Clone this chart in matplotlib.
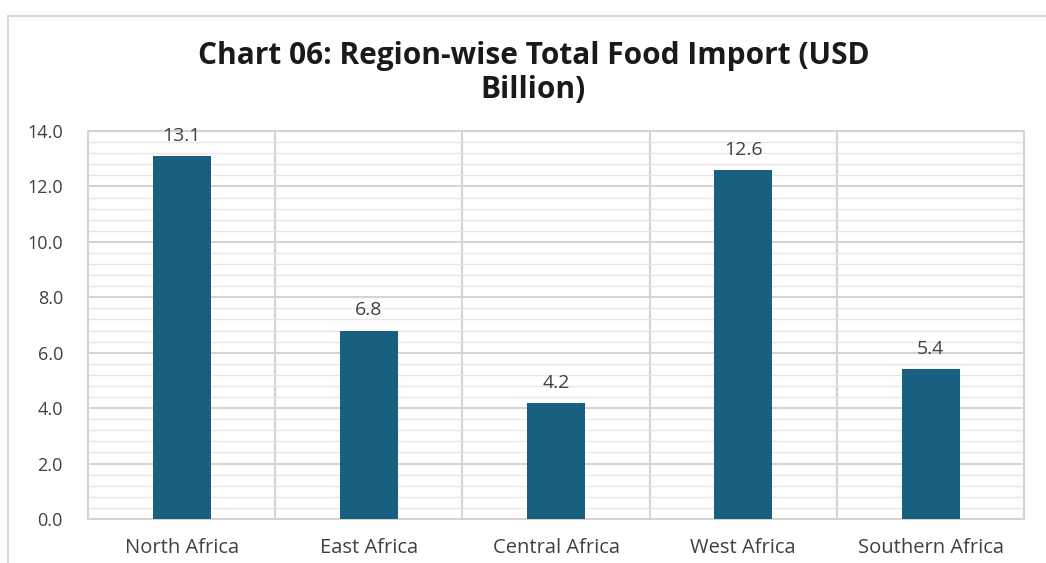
import matplotlib.pyplot as plt
from matplotlib.patches import Rectangle
from matplotlib.ticker import MultipleLocator

plt.rcParams['font.family'] = ['Open Sans', 'DejaVu Sans']

regions = ['North Africa', 'East Africa', 'Central Africa', 'West Africa', 'Southern Africa']
imports = [13.1, 6.8, 4.2, 12.6, 5.4]

fig = plt.figure(figsize=(10.46, 5.63), dpi=100)
ax = fig.add_axes([0.0841, 0.0782, 0.895, 0.689])

# outer frame of the chart
fig.patches.append(Rectangle((8 / 1046, -0.1), 1.2, 1 - 16 / 563 + 0.1,
                             transform=fig.transFigure, fill=False,
                             edgecolor='#d9d9d9', linewidth=1.5))

x = range(len(regions))
ax.bar(x, imports, width=0.31, color='#195f80', zorder=3)
for i, v in enumerate(imports):
    ax.text(i, v + 0.4, f'{v:.1f}', ha='center', va='bottom',
            fontsize=14, color='#404040')

ax.set_xlim(-0.5, len(regions) - 0.5)
ax.set_ylim(0, 14)
ax.yaxis.set_major_locator(MultipleLocator(2))
ax.yaxis.set_minor_locator(MultipleLocator(0.4))
ax.set_yticklabels([f'{t:.1f}' for t in ax.get_yticks()])
ax.set_xticks(list(x))
ax.set_xticklabels(regions)
ax.set_xticks([i - 0.5 for i in range(len(regions) + 1)], minor=True)

ax.grid(which='major', axis='y', color='#d4d4d4', linewidth=1.5, zorder=0)
ax.grid(which='minor', axis='y', color='#e6e6e6', linewidth=1.0, zorder=0)
ax.grid(which='minor', axis='x', color='#d4d4d4', linewidth=1.5, zorder=0)
ax.tick_params(which='both', length=0)
ax.tick_params(axis='x', labelsize=14.5, labelcolor='#404040', pad=14)
ax.tick_params(axis='y', labelsize=13, labelcolor='#404040', pad=18)
for s in ax.spines.values():
    s.set_color('#d4d4d4')
    s.set_linewidth(1.5)

fig.text(0.51, 0.87, 'Chart 06: Region-wise Total Food Import (USD\nBillion)',
         ha='center', va='center', fontsize=21.5, fontweight='bold',
         color='#1a1a1a', linespacing=1.15)

fig.savefig('out.png', dpi=100)
